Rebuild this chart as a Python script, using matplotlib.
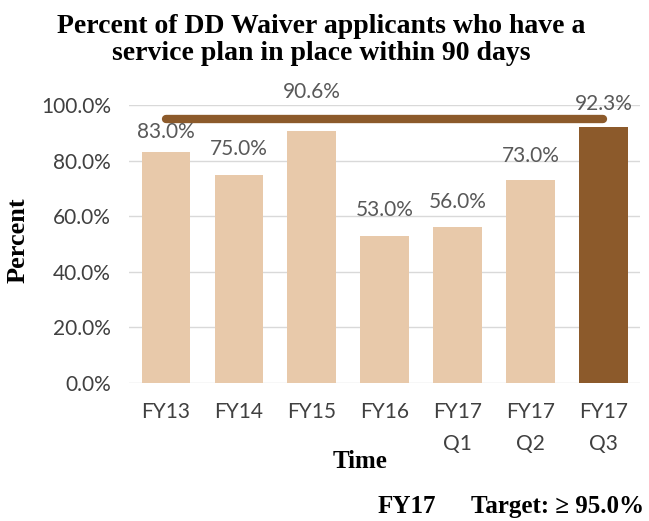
import matplotlib
matplotlib.use("Agg")
import matplotlib.pyplot as plt

categories = ["FY13", "FY14", "FY15", "FY16", "FY17\nQ1", "FY17\nQ2", "FY17\nQ3"]
values = [83.0, 75.0, 90.6, 53.0, 56.0, 73.0, 92.3]
target = 95.0
yticks = [0, 20, 40, 60, 80, 100]

light = "#E8C9AA"
dark = "#8C5A2B"
grey = "#595959"
dgrey = "#404040"
sans = ["Lato", "DejaVu Sans"]
serif = ["Liberation Serif", "DejaVu Serif"]

fig = plt.figure(figsize=(6.49, 5.21), dpi=100)
ax = fig.add_axes([0.199, 0.265, 0.787, 0.533])

x = list(range(len(categories)))
colors = [light] * (len(values) - 1) + [dark]
ax.bar(x, values, width=0.66, color=colors, zorder=2)
ax.plot([x[0], x[-1]], [target, target], color=dark, lw=6,
        solid_capstyle="round", zorder=3)

label_offsets = [14.5, 18.5, 28, 18.5, 18, 17.5, 16.5]
for xi, v, off in zip(x, values, label_offsets):
    ax.annotate(f"{v:.1f}%", (xi, v), xytext=(0, off), textcoords="offset points",
                ha="center", va="center", fontsize=15, color=grey,
                family=sans, annotation_clip=False, zorder=4)

ax.set_ylim(0, 100)
ax.set_xlim(-0.5, len(values) - 0.5)
ax.set_yticks(yticks)
ax.set_yticklabels([f"{t:.1f}%" for t in yticks], family=sans, fontsize=15, color=dgrey)
ax.set_xticks(x)
ax.set_xticklabels(categories, family=sans, fontsize=15, color=dgrey, linespacing=1.75)
ax.yaxis.grid(True, color="#D9D9D9", lw=1, zorder=0)
ax.set_axisbelow(True)
for s in ax.spines.values():
    s.set_visible(False)
ax.tick_params(length=0)
ax.tick_params(axis="x", pad=14)
ax.tick_params(axis="y", pad=13)

ax.set_xlabel("Time", family=serif, fontweight="bold", fontsize=18)
ax.xaxis.set_label_coords(0.453, -0.24)
ax.set_ylabel("Percent", family=serif, fontweight="bold", fontsize=19)
ax.yaxis.set_label_coords(-0.195, 0.514)

fig.text(0.495, 0.923, "Percent of DD Waiver applicants who have a\nservice plan in place within 90 days",
         ha="center", va="center", family=serif, fontweight="bold", fontsize=20,
         linespacing=1.12)
fig.text(0.581, 0.027, "FY17", ha="left", va="center",
         family=serif, fontweight="bold", fontsize=18)
fig.text(0.992, 0.027, "Target: \u2265 95.0%", ha="right", va="center",
         family=serif, fontweight="bold", fontsize=18)

fig.savefig("out.png", dpi=100)
